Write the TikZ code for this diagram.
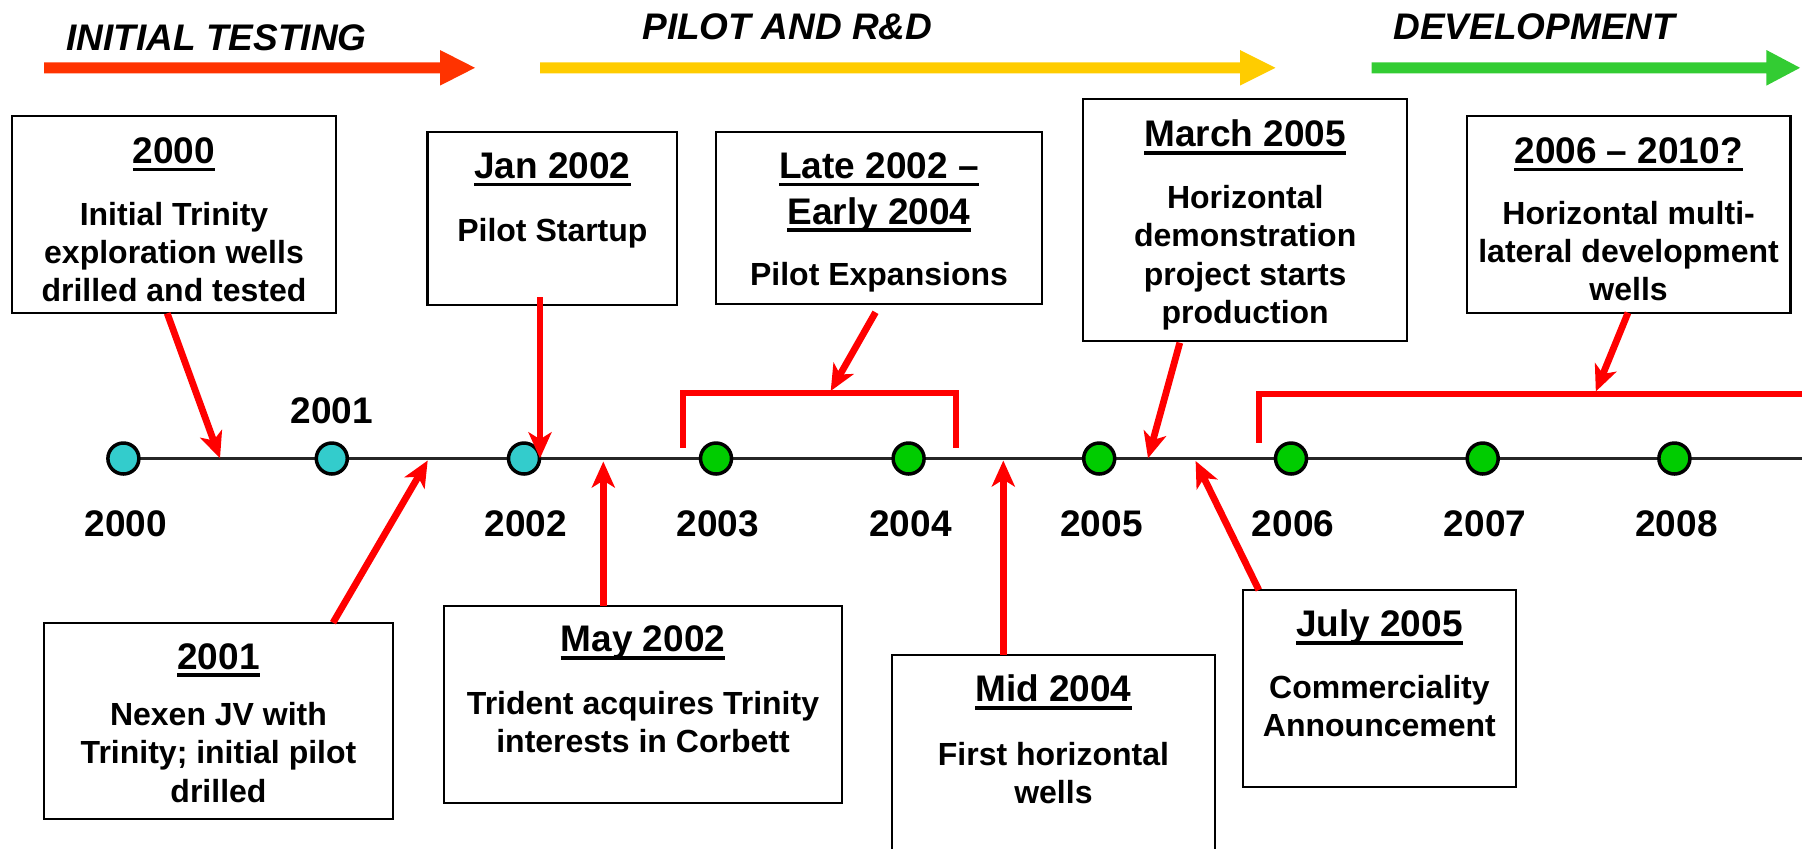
\documentclass[tikz,border=0pt]{standalone}
\usepackage{fontspec}
\setmainfont{Liberation Sans}
\usetikzlibrary{arrows.meta,calc,fit}

\definecolor{phred}{HTML}{FF3300}
\definecolor{phyellow}{HTML}{FFCC00}
\definecolor{phgreen}{HTML}{33CC33}
\definecolor{conred}{HTML}{FF0000}
\definecolor{dotcyan}{HTML}{33CCCC}
\definecolor{dotgreen}{HTML}{00CC00}

% heavy underline for the box headings
\newcommand\ulbox[1]{\setbox0\hbox{#1}\rlap{\rule[-4pt]{\wd0}{1.8pt}}\box0}
% phase arrow: colour, shaft start, head base, tip
\newcommand\PhaseArrow[4]{%
  \fill[#1] (#2,62.3) -- (#3,62.3) -- (#3,50) -- (#4,67.8) -- (#3,85.6) -- (#3,73.3) -- (#2,73.3) -- cycle;}

\begin{document}
\begin{tikzpicture}[x=0.5pt,y=-0.5pt,
  evbox/.style={draw=black, line width=1.1pt, fill=white, inner sep=0pt, outer sep=0pt},
  ttl/.style={font=\fontsize{18.5}{22.85}\selectfont\bfseries, inner sep=0pt, anchor=base},
  txt/.style={font=\fontsize{16}{19.2}\selectfont\bfseries, inner sep=0pt, anchor=base},
  yr/.style={font=\fontsize{18.5}{22}\selectfont\bfseries, inner sep=0pt, anchor=base},
  phase/.style={font=\fontsize{18.5}{22}\selectfont\bfseries\itshape, inner sep=0pt, anchor=base west},
  ptr/.style={draw=conred, line width=3.4pt, -{Stealth[length=13pt,width=11.5pt,inset=3.5pt]}},
  brk/.style={draw=conred, line width=3pt, line join=miter},
  dot/.style={circle, draw=black, line width=1.75pt, minimum size=15.5pt, inner sep=0pt},
  axis/.style={draw=black!85, line width=1.1pt}]

\path[use as bounding box, clip] (0,0) rectangle (1802,848);

% phases
\PhaseArrow{phred}{44}{440}{475}
\PhaseArrow{phyellow}{540}{1240}{1275.4}
\PhaseArrow{phgreen}{1371.5}{1766.4}{1800}
\node[phase] (ph1) at (66,50) {INITIAL TESTING};
\node[phase] (ph2) at (642,39.3) {PILOT AND R\&D};
\node[phase] (ph3) at (1393,39.3) {DEVELOPMENT};

% timeline and year markers
\coordinate (tl0) at (123.4,458.5);
\coordinate (tlend) at (1815,458.5);
\draw[axis] (tl0) -- (tlend);
\node[dot, fill=dotcyan]  (c2000) at (123.4,458.5) {};
\node[dot, fill=dotcyan]  (c2001) at (331.8,458.5) {};
\node[dot, fill=dotcyan]  (c2002) at (524,458.5) {};
\node[dot, fill=dotgreen] (c2003) at (716,458.5) {};
\node[dot, fill=dotgreen] (c2004) at (908.6,458.5) {};
\node[dot, fill=dotgreen] (c2005) at (1099.2,458.5) {};
\node[dot, fill=dotgreen] (c2006) at (1291,458.5) {};
\node[dot, fill=dotgreen] (c2007) at (1482.7,458.5) {};
\node[dot, fill=dotgreen] (c2008) at (1674.4,458.5) {};

\node[yr] (y2000) at (126,536.7) {2000};
\node[yr] (y2001) at (332,423.3) {2001};
\node[yr] (y2002) at (526,536.7) {2002};
\node[yr] (y2003) at (718,536.7) {2003};
\node[yr] (y2004) at (910.5,536.7) {2004};
\node[yr] (y2005) at (1101.5,536.7) {2005};
\node[yr] (y2006) at (1293,536.7) {2006};
\node[yr] (y2007) at (1485,536.7) {2007};
\node[yr] (y2008) at (1676.5,536.7) {2008};

% event boxes
\node[evbox, fit={(12,116)(336,313.3)}] (b2000) {};
\node[evbox, fit={(427.5,132.3)(677.3,305)}] (bJan) {};
\node[evbox, fit={(716,132.3)(1042,304.3)}] (bLate) {};
\node[evbox, fit={(1083.3,99.3)(1407,340.7)}] (bMar) {};
\node[evbox, fit={(1466.7,116)(1790.5,312.7)}] (b2006) {};
\node[evbox, fit={(44.2,622.7)(392.7,819.3)}] (b2001) {};
\node[evbox, fit={(443.7,606.3)(842.1,802.7)}] (bMay) {};
\node[evbox, fit={(891.7,655)(1215,900)}] (bMid) {};
\node[evbox, fit={(1242.7,590)(1516,786.7)}] (bJul) {};

% box texts
\node[ttl] (t2000) at (174,163.3) {\ulbox{2000}};
\node[txt] (d2000) at (174,225) {\begin{tabular}[t]{@{}c@{}}Initial Trinity\\exploration wells\\drilled and tested\end{tabular}};

\node[ttl] (tJan) at (552.4,178.3) {\ulbox{Jan 2002}};
\node[txt] (dJan) at (552.4,241.7) {Pilot Startup};

\node[ttl] (tLate) at (879,178.3) {\begin{tabular}[t]{@{}c@{}}\ulbox{Late 2002 –}\\\ulbox{Early 2004}\end{tabular}};
\node[txt] (dLate) at (879,285.7) {Pilot Expansions};

\node[ttl] (tMar) at (1245.2,146.7) {\ulbox{March 2005}};
\node[txt] (dMar) at (1245.2,208.3) {\begin{tabular}[t]{@{}c@{}}Horizontal\\demonstration\\project starts\\production\end{tabular}};

\node[ttl] (t2006) at (1628.6,163.3) {\ulbox{2006 – 2010?}};
\node[txt] (d2006) at (1628.6,224) {\begin{tabular}[t]{@{}c@{}}Horizontal multi-\\lateral development\\wells\end{tabular}};

\node[ttl] (t2001) at (218.5,669) {\ulbox{2001}};
\node[txt] (d2001) at (218.5,725.5) {\begin{tabular}[t]{@{}c@{}}Nexen JV with\\Trinity; initial pilot\\drilled\end{tabular}};

\node[ttl] (tMay) at (643,651.7) {\ulbox{May 2002}};
\node[txt] (dMay) at (643,714) {\begin{tabular}[t]{@{}c@{}}Trident acquires Trinity\\interests in Corbett\end{tabular}};

\node[ttl] (tMid) at (1053.4,701.7) {\ulbox{Mid 2004}};
\node[txt] (dMid) at (1053.4,765) {\begin{tabular}[t]{@{}c@{}}First horizontal\\wells\end{tabular}};

\node[ttl] (tJul) at (1379.4,636.7) {\ulbox{July 2005}};
\node[txt] (dJul) at (1379.4,698.3) {\begin{tabular}[t]{@{}c@{}}Commerciality\\Announcement\end{tabular}};

% brackets over multi-year spans
\coordinate (k1l) at (683.1,447.7);
\coordinate (k1r) at (955.7,447.7);
\coordinate (k2l) at (1258.8,442.7);
\draw[brk] (k1l) -- ++(0,-54.4) -| (k1r);
\draw[brk] (k2l) -- ++(0,-48.7) -- ++(600,0);

% pointer ends
\coordinate (e2000) at (220,458.3);
\coordinate (eJan)  at (540,458.3);
\coordinate (e2001) at (427.7,460.5);
\coordinate (eMay)  at (603.3,461.5);
\coordinate (eLate) at (830.7,391);
\coordinate (eMid)  at (1003.3,460.5);
\coordinate (eMar)  at (1148,458.3);
\coordinate (eJul)  at (1195.6,461);
\coordinate (e2006) at (1595.8,391.5);

% pointers from boxes
\draw[ptr] ($(b2000.south west)+(155.2,0)$) -- (e2000);
\draw[ptr] ($(bJan.south west)+(112.5,-8)$) -- (eJan);
\draw[ptr] ($(b2001.north west)+(288.8,0)$) -- (e2001);
\draw[ptr] ($(bMay.north west)+(159.6,0)$) -- (eMay);
\draw[ptr] ($(bLate.south west)+(159.5,8)$) -- (eLate);
\draw[ptr] ($(bMid.north west)+(111.6,0)$) -- (eMid);
\draw[ptr] ($(bMar.south west)+(96.5,2)$) -- (eMar);
\draw[ptr] ($(bJul.north west)+(16.1,0)$) -- (eJul);
\draw[ptr] ($(b2006.south west)+(161.3,0)$) -- (e2006);
\end{tikzpicture}
\end{document}
